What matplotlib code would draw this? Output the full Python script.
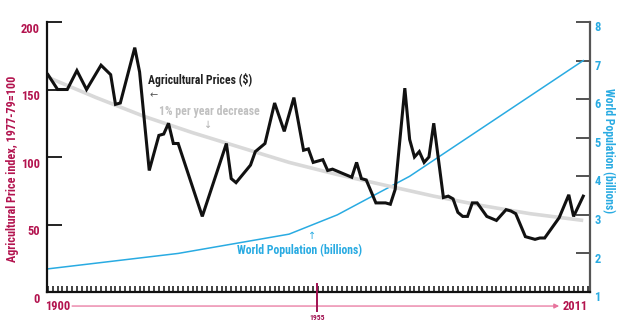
import matplotlib
matplotlib.use("Agg")
import matplotlib.pyplot as plt
import matplotlib.transforms as mtransforms
from matplotlib.ticker import MultipleLocator, FixedLocator

# ---------------- data ----------------
price_years = [1900, 1902, 1904, 1906, 1908, 1911, 1913, 1914, 1915, 1918, 1919, 1921,
               1923, 1924, 1925, 1926, 1927, 1932, 1937, 1938, 1939, 1942, 1943, 1945,
               1947, 1949, 1951, 1953, 1954, 1955, 1957, 1958, 1959, 1961, 1963, 1964,
               1965, 1966, 1968, 1970, 1971, 1972, 1974, 1975, 1976, 1977, 1978, 1979,
               1980, 1982, 1983, 1984, 1985, 1986, 1987, 1988, 1989, 1991, 1993, 1995,
               1996, 1997, 1999, 2001, 2002, 2003, 2006, 2008, 2009, 2011]
price_index = [161, 150, 150, 164, 150, 168, 161, 139, 140, 181, 163, 90,
               116, 117, 125, 110, 110, 56, 110, 84, 81, 94, 104, 110,
               140, 119, 144, 105, 106, 96, 98, 90, 91, 88, 85, 96,
               84, 83, 66, 66, 65, 76, 151, 113, 100, 104, 96, 100,
               125, 70, 71, 69, 59, 56, 56, 66, 66, 56, 53, 61,
               60, 58, 41, 39, 40, 40, 55, 72, 56, 71]

trend_years = [1900, 1910, 1920, 1930, 1940, 1950, 1960, 1970, 1980, 1990, 2000, 2011]
trend_index = [159, 144, 130, 118, 107, 96, 87, 79, 71, 64, 58, 53]

pop_years = [1900, 1927, 1950, 1960, 1975, 1987, 1999, 2011]
pop_billions = [1.6, 2.0, 2.5, 3.0, 4.0, 5.0, 6.0, 7.0]

left_ticks = [0, 50, 100, 150, 200]
right_ticks = [1, 2, 3, 4, 5, 6, 7, 8]

# ---------------- style ----------------
FONT = ['Roboto Condensed', 'Archivo Narrow', 'DejaVu Sans']
plt.rcParams['font.family'] = FONT
ARROWFONT = ['DejaVu Sans']
CRIMSON = '#b3144f'
BLUE = '#29abe2'
PINK = '#e8739d'
GRAY = '#d9d9d9'
FS = 8.5

fig = plt.figure(figsize=(6.22, 3.28), dpi=100)
ax = fig.add_axes([47/622, 1-292/328, (590-47)/622, (292-22)/328])
ax2 = ax.twinx()

ax.set_xlim(1899.8, 2012.4)
ax.set_ylim(0, 200)
ax2.set_ylim(1, 8)

# lines
ax.plot(trend_years, trend_index, color=GRAY, lw=2.6, zorder=2, solid_capstyle='butt')
ax.plot(price_years, price_index, color='#111111', lw=2.2, zorder=4, solid_joinstyle='miter')
ax2.plot(pop_years, pop_billions, color=BLUE, lw=1.1, zorder=3)
ax.set_zorder(ax2.get_zorder() + 1)
ax.patch.set_visible(False)

# spines
ax.spines['top'].set_visible(False)
ax2.spines['top'].set_visible(False)
ax.spines['right'].set_visible(False)
ax.spines['left'].set_linewidth(1.6)
ax.spines['left'].set_color('#111111')
ax.spines['bottom'].set_linewidth(1.6)
ax.spines['bottom'].set_color('#111111')
ax2.spines['left'].set_visible(False)
ax2.spines['bottom'].set_visible(False)
ax2.spines['right'].set_linewidth(1.6)
ax2.spines['right'].set_color('#555555')

# left y ticks
ax.yaxis.set_major_locator(FixedLocator(left_ticks))
ax.tick_params(axis='y', which='major', direction='in', length=10.5, width=1.3,
               color='#111111', labelcolor=CRIMSON, labelsize=FS + 0.5, pad=5)
for lab in ax.get_yticklabels():
    lab.set_fontweight('bold')
    lab.set_transform(lab.get_transform() + mtransforms.ScaledTranslation(0, -4/72, fig.dpi_scale_trans))

# right y ticks
ax2.yaxis.set_major_locator(FixedLocator(right_ticks))
ax2.tick_params(axis='y', which='major', direction='in', length=10, width=1.3,
                color='#444444', labelcolor=BLUE, labelsize=FS + 0.5, pad=3)
for lab in ax2.get_yticklabels():
    lab.set_fontweight('bold')
    lab.set_transform(lab.get_transform() + mtransforms.ScaledTranslation(0, -3/72, fig.dpi_scale_trans))

# x ticks: yearly small ticks pointing up
ax.set_xticks([])
ax.xaxis.set_minor_locator(MultipleLocator(1))
ax.tick_params(axis='x', which='minor', direction='in', length=4.5, width=1.1, color='#111111')
ax2.tick_params(axis='x', which='both', length=0)

# axis labels (as rotated texts)
ax.text(-0.063, 0.455, 'Agricultural Price index, 1977-79=100', transform=ax.transAxes,
        rotation=90, color=CRIMSON, fontsize=FS + 0.2, fontweight='bold',
        ha='center', va='center', clip_on=False)
ax.text(1.034, 0.522, 'World Population (billions)', transform=ax.transAxes,
        rotation=270, color=BLUE, fontsize=FS, fontweight='bold',
        ha='center', va='center', clip_on=False)

# in-chart annotations
ax.text(1920.7, 157, 'Agricultural Prices ($)', color='#222222', fontsize=FS,
        fontweight='bold', va='center', ha='left')
ax.text(1921.0, 146, '\u2190', color='#555555', fontsize=7, va='center', ha='left',
        family=ARROWFONT)
ax.text(1923.1, 134, '1% per year decrease', color='#c0c0c0', fontsize=FS,
        fontweight='bold', va='center', ha='left')
ax.text(1933.2, 124, '\u2193', color='#b0b0b0', fontsize=7, va='center', ha='center',
        family=ARROWFONT)
ax.text(1939.2, 31, 'World Population (billions)', color=BLUE, fontsize=FS,
        fontweight='bold', va='center', ha='left')
ax.text(1954.8, 41.5, '\u2191', color=BLUE, fontsize=7, va='center', ha='center',
        family=ARROWFONT)

# bottom timeline
blend = mtransforms.blended_transform_factory(ax.transData, ax.transAxes)
ax.annotate('', xy=(2006.0, -0.052), xytext=(1905.0, -0.052), xycoords=blend,
            textcoords=blend, annotation_clip=False,
            arrowprops=dict(arrowstyle='-|>', color=PINK, lw=0.9,
                            mutation_scale=7, shrinkA=0, shrinkB=0))
ax.text(1899.4, -0.052, '1900', transform=blend, color=CRIMSON, fontsize=FS + 0.5,
        fontweight='bold', va='center', ha='left', clip_on=False)
ax.text(2011.9, -0.052, '2011', transform=blend, color=CRIMSON, fontsize=FS + 0.5,
        fontweight='bold', va='center', ha='right', clip_on=False)
ax.plot([1955.8, 1955.8], [0.03, -0.07], transform=blend, color='#a01050', lw=1.4,
        clip_on=False, zorder=5)
ax.text(1955.8, -0.082, '1955', transform=blend, color='#a01050', fontsize=5.5,
        fontweight='bold', va='top', ha='center', clip_on=False)

fig.savefig('out.png', dpi=100)
